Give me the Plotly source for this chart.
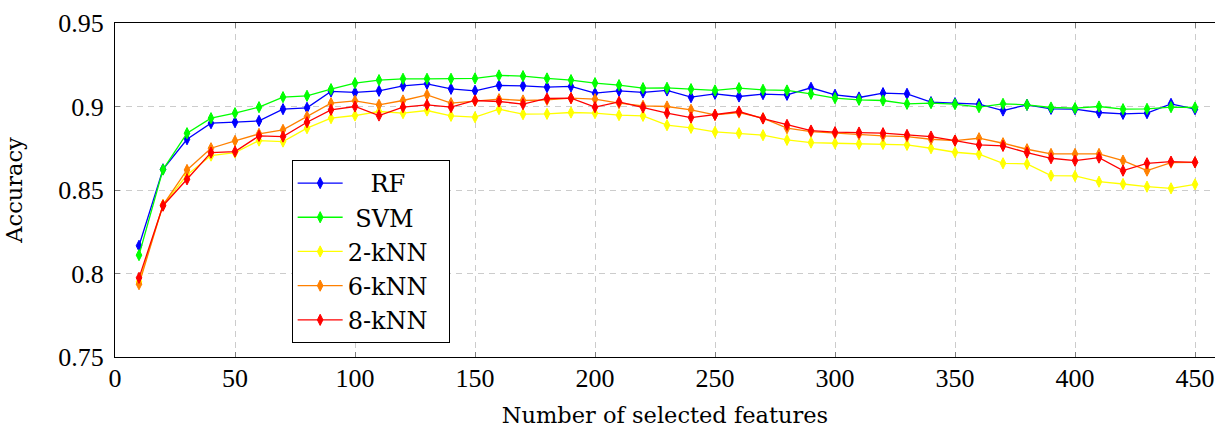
import plotly.graph_objects as go

features = [10, 20, 30, 40, 50, 60, 70, 80, 90, 100, 110, 120, 130, 140, 150,
            160, 170, 180, 190, 200, 210, 220, 230, 240, 250, 260, 270, 280, 290, 300,
            310, 320, 330, 340, 350, 360, 370, 380, 390, 400, 410, 420, 430, 440, 450]

rf = [0.8166, 0.8624, 0.8804, 0.8900, 0.8906, 0.8914, 0.8984, 0.8992, 0.9090, 0.9084,
      0.9094, 0.9124, 0.9136, 0.9106, 0.9094, 0.9126, 0.9124, 0.9116, 0.9120, 0.9080,
      0.9094, 0.9084, 0.9096, 0.9056, 0.9076, 0.9060, 0.9074, 0.9070, 0.9112, 0.9070,
      0.9054, 0.9080, 0.9076, 0.9026, 0.9020, 0.9014, 0.8976, 0.9010, 0.8986, 0.8984,
      0.8964, 0.8956, 0.8960, 0.9016, 0.8984]

svm = [0.8110, 0.8622, 0.8840, 0.8930, 0.8960, 0.8996, 0.9056, 0.9064, 0.9104, 0.9140,
       0.9158, 0.9166, 0.9166, 0.9166, 0.9168, 0.9186, 0.9182, 0.9168, 0.9158, 0.9140,
       0.9128, 0.9110, 0.9112, 0.9104, 0.9096, 0.9110, 0.9100, 0.9096, 0.9076, 0.9050,
       0.9040, 0.9036, 0.9016, 0.9020, 0.9014, 0.8996, 0.9016, 0.9010, 0.8994, 0.8990,
       0.9000, 0.8984, 0.8986, 0.8996, 0.8994]

knn2 = [0.7950, 0.8410, 0.8590, 0.8706, 0.8724, 0.8796, 0.8790, 0.8870, 0.8930, 0.8946,
        0.8970, 0.8960, 0.8976, 0.8944, 0.8936, 0.8984, 0.8954, 0.8956, 0.8964, 0.8960,
        0.8948, 0.8944, 0.8888, 0.8872, 0.8848, 0.8840, 0.8828, 0.8800, 0.8784, 0.8780,
        0.8776, 0.8776, 0.8770, 0.8750, 0.8726, 0.8714, 0.8660, 0.8656, 0.8586, 0.8584,
        0.8550, 0.8536, 0.8520, 0.8510, 0.8534]

knn6 = [0.7936, 0.8410, 0.8620, 0.8750, 0.8794, 0.8836, 0.8860, 0.8940, 0.9020, 0.9034,
        0.9010, 0.9036, 0.9070, 0.9020, 0.9034, 0.9044, 0.9036, 0.9040, 0.9050, 0.9044,
        0.9020, 0.9004, 0.9000, 0.8980, 0.8950, 0.8964, 0.8930, 0.8870, 0.8850, 0.8840,
        0.8834, 0.8824, 0.8820, 0.8804, 0.8796, 0.8810, 0.8780, 0.8744, 0.8716, 0.8716,
        0.8716, 0.8676, 0.8616, 0.8664, 0.8666]

knn8 = [0.7974, 0.8406, 0.8564, 0.8724, 0.8730, 0.8824, 0.8820, 0.8906, 0.8980, 0.9000,
        0.8946, 0.8996, 0.9010, 0.8996, 0.9036, 0.9030, 0.9014, 0.9048, 0.9050, 0.8996,
        0.9028, 0.8994, 0.8960, 0.8934, 0.8950, 0.8970, 0.8928, 0.8890, 0.8856, 0.8846,
        0.8844, 0.8840, 0.8830, 0.8820, 0.8796, 0.8770, 0.8764, 0.8724, 0.8690, 0.8676,
        0.8694, 0.8616, 0.8660, 0.8670, 0.8666]

series_names = ["RF", "SVM", "2-kNN", "6-kNN", "8-kNN"]
series_values = [rf, svm, knn2, knn6, knn8]
series_colors = ["#0000ff", "#00ff00", "#ffff00", "#ff8000", "#ff0000"]

x_tickvals = [0, 50, 100, 150, 200, 250, 300, 350, 400, 450]
x_ticktext = ["0", "50", "100", "150", "200", "250", "300", "350", "400", "450"]
y_tickvals = [0.75, 0.80, 0.85, 0.90, 0.95]
y_ticktext = ["0.75", "0.8", "0.85", "0.9", "0.95"]

TICK_FONT = "Liberation Serif"
TEXT_FONT = "DejaVu Serif"
NB = "\u00a0"

# pad legend labels so that they appear centred like the reference legend
pad_left = {"RF": 3, "SVM": 1, "2-kNN": 0, "6-kNN": 0, "8-kNN": 0}
pad_right = {"RF": 5, "SVM": 3, "2-kNN": 2, "6-kNN": 2, "8-kNN": 2}

fig = go.Figure()
for name, vals, col in zip(series_names, series_values, series_colors):
    label = NB * pad_left[name] + name + NB * pad_right[name]
    fig.add_trace(go.Scatter(
        x=features, y=vals, name=label, mode="lines+markers",
        line=dict(color=col, width=1.3),
        marker=dict(symbol="diamond-tall", size=8, color=col,
                    line=dict(color=col, width=1)),
    ))

axis_common = dict(
    showline=True, linecolor="black", linewidth=1.3,
    ticks="inside", ticklen=5, tickcolor="#7f7f7f", tickwidth=1,
    showgrid=True, gridcolor="#cccccc", gridwidth=1.3, griddash="6px,5px",
    zeroline=False,
    tickfont=dict(family=TICK_FONT, size=26, color="black"),
)

fig.update_xaxes(
    range=[0, 458.33], tickvals=x_tickvals, ticktext=x_ticktext,
    ticklabelstandoff=-2, mirror="ticks",
    title=dict(text="Number of selected features",
               font=dict(family=TEXT_FONT, size=22.5, color="black"), standoff=26),
    **axis_common,
)
fig.update_yaxes(
    range=[0.75, 0.95], tickvals=y_tickvals, ticktext=y_ticktext,
    ticklabelstandoff=5, mirror=False,
    title=dict(text="Accuracy", font=dict(family=TEXT_FONT, size=22.5, color="black"),
               standoff=29),
    **axis_common,
)

fig.update_layout(
    width=1215, height=428,
    margin=dict(l=115, r=0, t=23, b=71, autoexpand=False),
    paper_bgcolor="white", plot_bgcolor="white",
    font=dict(family=TEXT_FONT, size=23, color="black"),
    showlegend=True,
    legend=dict(
        x=0.1606, y=0.59, xanchor="left", yanchor="top",
        bgcolor="white", bordercolor="black", borderwidth=1,
        font=dict(family=TEXT_FONT, size=24, color="black"),
        itemwidth=45, tracegroupgap=0,
    ),
)

# remove the default 8px page margin so the figure fills the window exactly
fig.write_html("out.html", config={"displayModeBar": False},
               post_script="document.body.style.margin='0';")
